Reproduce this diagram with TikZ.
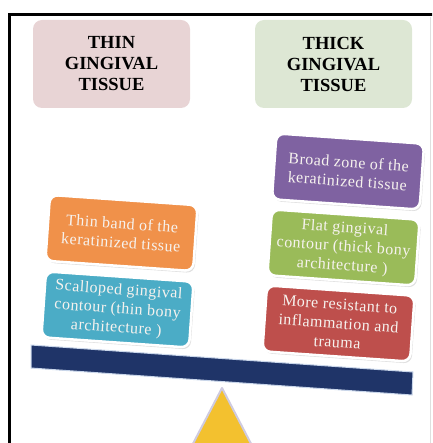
\documentclass[tikz,border=0pt]{standalone}
\usepackage{fontspec}
\setmainfont{Liberation Serif}
\newfontfamily\boxfont[LetterSpace=3]{Liberation Serif}
\usetikzlibrary{shadows}
\definecolor{framec}{HTML}{000000}
\definecolor{pinkhead}{HTML}{E8D4D5}
\definecolor{greenhead}{HTML}{DDE7D4}
\definecolor{orangebox}{HTML}{F0914A}
\definecolor{tealbox}{HTML}{4BACC6}
\definecolor{purplebox}{HTML}{7F62A1}
\definecolor{greenbox}{HTML}{9ABB59}
\definecolor{redbox}{HTML}{BE4F4C}
\definecolor{beamc}{HTML}{1F3468}
\definecolor{beamedge}{HTML}{C9D6EA}
\definecolor{goldc}{HTML}{F3C12F}
\definecolor{goldedge}{HTML}{CFCBE0}
\definecolor{boxtext}{HTML}{F6F2EE}
\begin{document}
\begin{tikzpicture}[x=1pt,y=-1pt,
  headbox/.style={rounded corners=9pt, minimum width=157pt, minimum height=88pt,
    font=\fontsize{18.5}{21}\selectfont\bfseries, align=center, text=black, inner sep=0pt},
  itembox/.style={rounded corners=8pt, draw=white, line width=2.5pt,
    minimum width=148pt, minimum height=66pt, rotate=-4,
    font=\boxfont\fontsize{16}{19}\selectfont, align=center, text=boxtext, inner sep=0pt,
    drop shadow={shadow xshift=1.5pt, shadow yshift=-2pt, opacity=0.25}},
]
\useasboundingbox (0,0) rectangle (432,443);
\begin{scope}
\clip (0,0) rectangle (432,443);
% frame
\draw[framec, line width=3pt] (9.5,460) -- (9.5,14.5) -- (450,14.5);
\draw[gray!25, line width=0.6pt] (430,17) -- (430,443);
% headers
\node[headbox, fill=pinkhead] (thin) at (111.5,64) {THIN\\GINGIVAL\\TISSUE};
\node[headbox, fill=greenhead] (thick) at (333.5,64) {THICK\\GINGIVAL\\TISSUE};
% triangle (fulcrum)
\coordinate (apex) at (222,388);
\coordinate (bl) at (184.5,460);
\coordinate (br) at (259.5,460);
\filldraw[fill=goldc, draw=goldedge, line width=2pt, line join=round] (apex) -- (bl) -- (br) -- cycle;
% beam
\coordinate (b1) at (31,345);
\coordinate (b2) at (413,372);
\coordinate (b3) at (412,395);
\coordinate (b4) at (31,368);
\filldraw[fill=beamc, draw=beamedge, line width=1pt] (b1) -- (b2) -- (b3) -- (b4) -- cycle;
% left items
\node[itembox, fill=orangebox] (orange) at (121.5,233) {Thin band of the\\keratinized tissue};
\node[itembox, fill=tealbox] (teal) at (117.5,309.5) {Scalloped gingival\\contour (thin bony\\architecture )};
% right items
\node[itembox, fill=purplebox] (purple) at (348,171.5) {Broad zone of the\\keratinized tissue};
\node[itembox, fill=greenbox] (green) at (343.5,247.5) {Flat gingival\\contour (thick bony\\architecture )};
\node[itembox, fill=redbox] (red) at (338.5,323.5) {More resistant to\\inflammation and\\trauma};
\end{scope}
\end{tikzpicture}
\end{document}
